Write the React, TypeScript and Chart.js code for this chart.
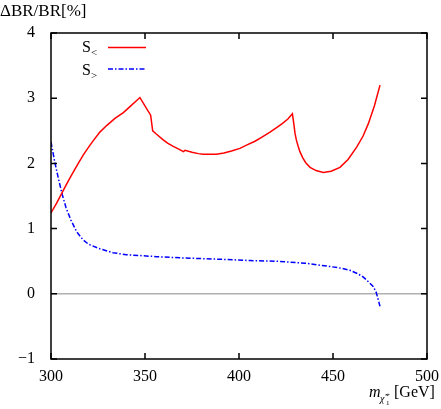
import { useEffect, useRef } from "react";
import { Chart, registerables } from "chart.js";

Chart.register(...registerables);

// S< (red, solid)
const redX = [300, 303, 305.7, 309, 311.9, 314.5, 317.2, 320, 322.5, 326, 329.6, 334, 338.5, 342, 347.3, 353, 354.1, 356, 359.7, 362, 365, 368, 370.4, 371.3, 375, 378.4, 381, 384.6, 388, 392, 396, 400.5, 404, 408.5, 412, 416.5, 420, 423, 426, 428.4, 429.2, 429.8, 430.5, 431.5, 432.4, 434, 435.5, 437.8, 441, 444.8, 449, 453.7, 458, 462.6, 466, 468.8, 472, 475];
const redY = [1.24, 1.39, 1.54, 1.72, 1.87, 2.0, 2.13, 2.25, 2.35, 2.48, 2.58, 2.69, 2.78, 2.87, 3.01, 2.74, 2.5, 2.45, 2.36, 2.31, 2.26, 2.22, 2.18, 2.2, 2.17, 2.15, 2.14, 2.14, 2.14, 2.16, 2.19, 2.23, 2.28, 2.34, 2.4, 2.48, 2.55, 2.61, 2.68, 2.76, 2.6, 2.46, 2.36, 2.26, 2.18, 2.08, 2.01, 1.94, 1.89, 1.86, 1.88, 1.94, 2.06, 2.25, 2.42, 2.61, 2.88, 3.2];

// S> (blue, dash-dot)
const blueX = [300, 302, 304, 306, 308, 310.6, 313.7, 317, 320, 326, 333, 340, 356, 370, 390, 406, 420, 435, 448, 455, 459, 463, 466, 469, 471.5, 473, 475];
const blueY = [2.33, 2.02, 1.76, 1.52, 1.32, 1.13, 0.95, 0.83, 0.76, 0.69, 0.63, 0.6, 0.57, 0.55, 0.53, 0.51, 0.5, 0.47, 0.42, 0.39, 0.36, 0.31, 0.26, 0.18, 0.11, 0.02, -0.19];

const legendMain = ["S", "S"];
const legendSub = ["<", ">"];
const xTicks = [300, 350, 400, 450, 500];
const yTicks = [-1, 0, 1, 2, 3, 4];
const yTitle = "ΔBR/BR[%]";
const xTitleUnit = "[GeV]";

const FONT = "'Liberation Serif', 'DejaVu Serif', serif";

export default function App() {
  const ref = useRef<HTMLCanvasElement>(null);

  useEffect(() => {
    if (!ref.current) return;

    const framePlugin = {
      id: "frame",
      beforeDatasetsDraw(chart: any) {
        const { ctx, chartArea } = chart;
        const y0 = chart.scales.y.getPixelForValue(0);
        ctx.save();
        ctx.strokeStyle = "#b0b0b0";
        ctx.lineWidth = 1.5;
        ctx.beginPath();
        ctx.moveTo(chartArea.left, y0);
        ctx.lineTo(chartArea.right, y0);
        ctx.stroke();
        ctx.restore();
      },
      afterDatasetsDraw(chart: any) {
        const { ctx, chartArea } = chart;
        const { left, right, top, bottom } = chartArea;
        const xs = chart.scales.x;
        const ys = chart.scales.y;
        ctx.save();
        ctx.strokeStyle = "#000";
        ctx.lineWidth = 1.5;
        ctx.strokeRect(left, top, right - left, bottom - top);
        const tl = 6;
        ctx.beginPath();
        xTicks.forEach((v) => {
          const px = xs.getPixelForValue(v);
          ctx.moveTo(px, bottom);
          ctx.lineTo(px, bottom - tl);
          ctx.moveTo(px, top);
          ctx.lineTo(px, top + tl);
        });
        yTicks.forEach((v) => {
          const py = ys.getPixelForValue(v);
          ctx.moveTo(left, py);
          ctx.lineTo(left + tl, py);
          ctx.moveTo(right, py);
          ctx.lineTo(right - tl, py);
        });
        ctx.stroke();

        // legend
        const colors = ["#ff0000", "#0000ff"];
        const dashes = [[], [5, 2, 1.5, 2]];
        const rowsY = [52, 75];
        const lineY = [47.5, 69];
        for (let i = 0; i < 2; i++) {
          ctx.fillStyle = "#000";
          ctx.font = `16px ${FONT}`;
          ctx.textAlign = "left";
          ctx.textBaseline = "alphabetic";
          ctx.fillText(legendMain[i], 82, rowsY[i]);
          ctx.font = `11px ${FONT}`;
          ctx.fillText(legendSub[i], 91, rowsY[i] + 4);
          ctx.strokeStyle = colors[i];
          ctx.lineWidth = 1.5;
          ctx.setLineDash(dashes[i]);
          ctx.beginPath();
          ctx.moveTo(108, lineY[i]);
          ctx.lineTo(146, lineY[i]);
          ctx.stroke();
          ctx.setLineDash([]);
        }

        // y title
        ctx.fillStyle = "#000";
        ctx.font = `17px ${FONT}`;
        ctx.textAlign = "left";
        ctx.fillText(yTitle, 0, 16);

        // x title
        ctx.font = `italic 16px ${FONT}`;
        ctx.fillText("m", 369, 397);
        ctx.font = `italic 10px ${FONT}`;
        ctx.fillText("χ̃", 380, 402);
        ctx.font = `7px ${FONT}`;
        ctx.fillText("1", 386, 405);
        ctx.fillText("+", 386, 397);
        ctx.font = `16px ${FONT}`;
        ctx.fillText(xTitleUnit, 394, 397);
        ctx.restore();
      },
    };

    const chart = new Chart(ref.current, {
      type: "line",
      data: {
        datasets: [
          {
            label: legendMain[0] + legendSub[0],
            data: redX.map((x, i) => ({ x, y: redY[i] })),
            borderColor: "#ff0000",
            borderWidth: 1.5,
            pointRadius: 0,
            fill: false,
            tension: 0,
          },
          {
            label: legendMain[1] + legendSub[1],
            data: blueX.map((x, i) => ({ x, y: blueY[i] })),
            borderColor: "#0000ff",
            borderWidth: 1.5,
            borderDash: [5, 2, 1.5, 2],
            pointRadius: 0,
            fill: false,
            tension: 0,
          },
        ],
      },
      options: {
        responsive: false,
        animation: false,
        layout: { padding: { top: 33, right: 14, left: 0, bottom: 0 } },
        plugins: { legend: { display: false }, tooltip: { enabled: false } },
        scales: {
          x: {
            type: "linear",
            min: 300,
            max: 500,
            grid: { display: false },
            border: { display: false },
            afterFit: (s: any) => {
              s.height = 50;
            },
            afterBuildTicks: (s: any) => {
              s.ticks = xTicks.map((v) => ({ value: v }));
            },
            ticks: {
              color: "#000",
              font: { family: FONT, size: 16 },
              padding: 0,
              maxRotation: 0,
              callback: (v: any) => String(v),
            },
          },
          y: {
            type: "linear",
            min: -1,
            max: 4,
            grid: { display: false },
            border: { display: false },
            afterFit: (s: any) => {
              s.width = 51;
            },
            afterBuildTicks: (s: any) => {
              s.ticks = yTicks.map((v) => ({ value: v }));
            },
            ticks: {
              color: "#000",
              font: { family: FONT, size: 16 },
              padding: 8,
              callback: (v: any) => (Number(v) < 0 ? "−" + Math.abs(Number(v)) : String(v)),
            },
          },
        },
      },
      plugins: [framePlugin],
    } as any);

    return () => chart.destroy();
  }, []);

  return (
    <div style={{ position: "absolute", left: 0, top: 0, width: 441, height: 409 }}>
      <canvas ref={ref} width={441} height={409} style={{ display: "block" }} />
    </div>
  );
}
